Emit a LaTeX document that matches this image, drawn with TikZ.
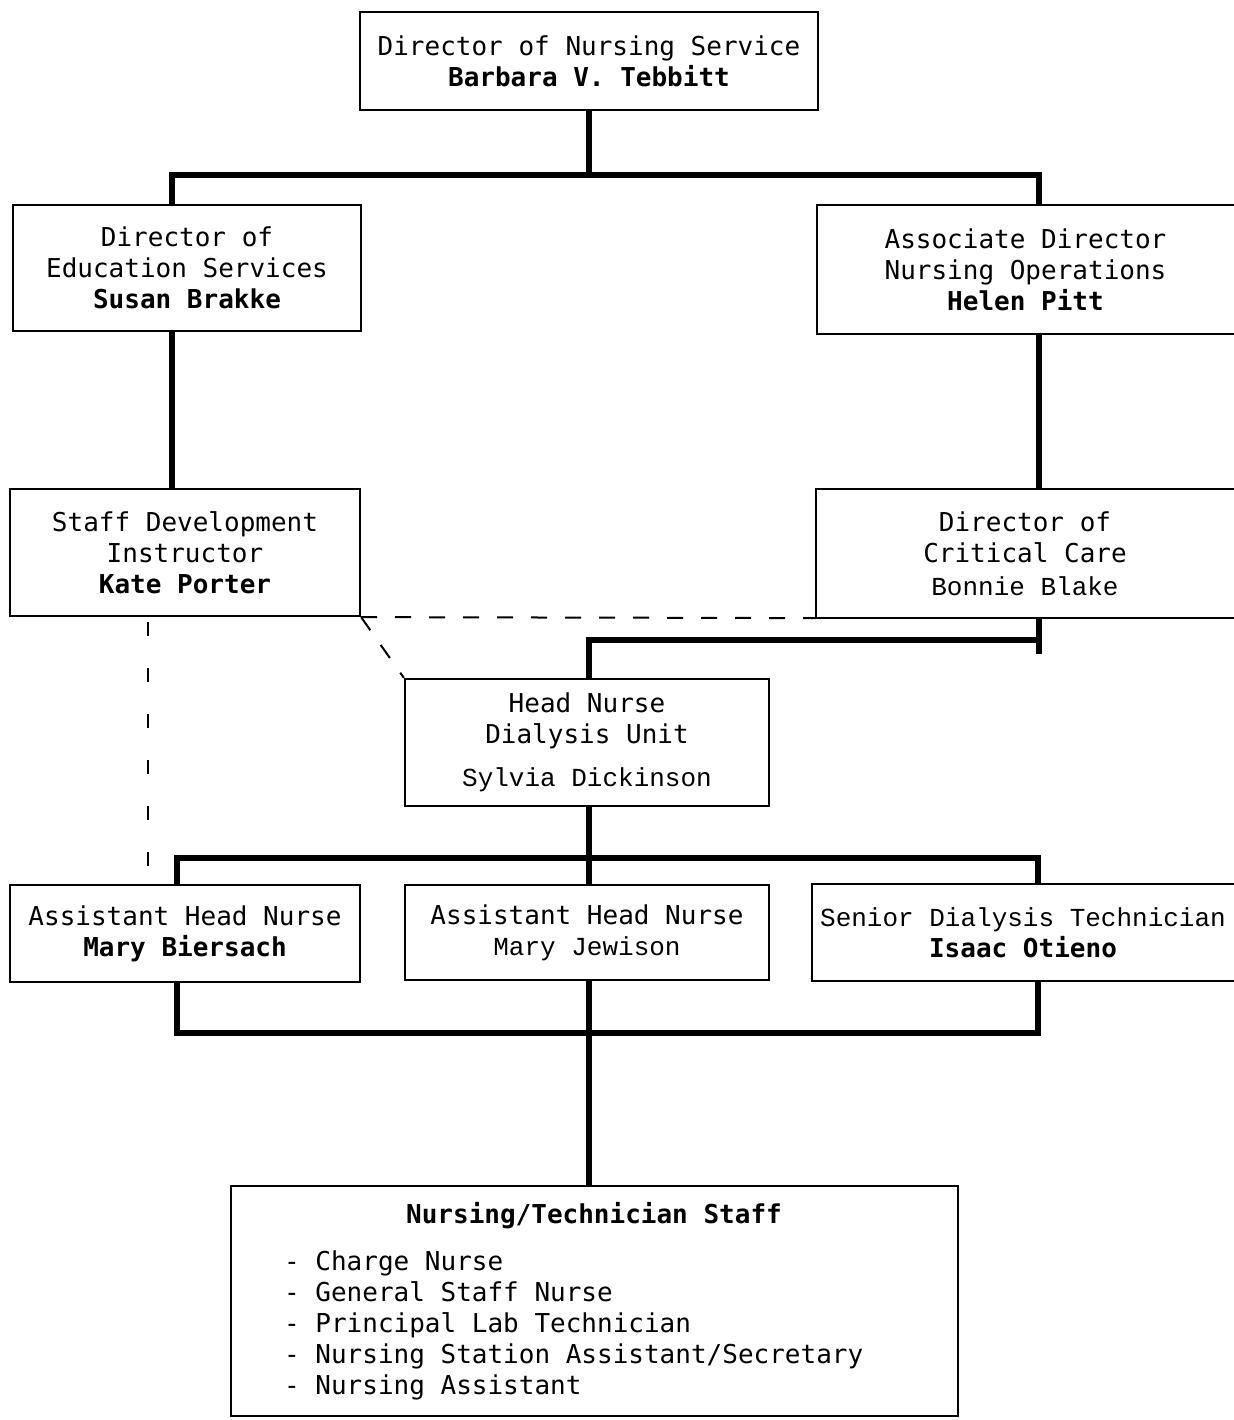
\documentclass[tikz,border=0pt]{standalone}
\usepackage{fontspec}
\newfontfamily\typer{DejaVu Sans Mono}
\newfontfamily\courier{Liberation Mono}
\tikzstyle{box} = [rectangle, draw=black, line width=1.1pt, inner sep=0pt, align=center, font=\typer\fontsize{13}{15.5}\selectfont]
\tikzstyle{openbox} = [box, draw=none]
\tikzstyle{side} = [line width=1.1pt]
\tikzstyle{conn} = [line width=3pt]
\tikzstyle{dashline} = [line width=1pt, dash pattern=on 8pt off 9pt]
\tikzstyle{dotline} = [line width=1pt, dash pattern=on 7pt off 16pt]
\newcommand{\who}[1]{{\bfseries #1}}
\newcommand{\typed}[1]{{\courier #1}}

\begin{document}
\begin{tikzpicture}[x=0.5pt, y=-0.5pt]

            \useasboundingbox (0,0) rectangle (1233,1420);

            %% boxes

            \node (top) [box, minimum width=229pt, minimum height=49pt] at (589,61) {Director of Nursing Service\\\who{Barbara V. Tebbitt}};
            \node (edu) [box, minimum width=174pt, minimum height=63pt] at (187,268) {Director of\\Education Services\\\who{Susan Brakke}};
            \node (ops) [openbox, minimum width=207.5pt, minimum height=63.5pt] at (1025.5,269.5) {Associate Director\\Nursing Operations\\\who{Helen Pitt}};
            \node (dev) [box, minimum width=175pt, minimum height=63.5pt] at (185,552.5) {Staff Development\\Instructor\\\who{Kate Porter}};
            \node (crit) [openbox, minimum width=208pt, minimum height=63.5pt] at (1025,553.5) {Director of\\Critical Care\\[1pt]\typed{Bonnie Blake}};
            \node (head) [box, minimum width=182pt, minimum height=63.5pt] at (587,742.5) {Head Nurse\\Dialysis Unit\\[6pt]\typed{Sylvia Dickinson}};
            \node (ahn1) [box, minimum width=175pt, minimum height=48.5pt] at (185,933.5) {Assistant Head Nurse\\\who{Mary Biersach}};
            \node (ahn2) [box, minimum width=182pt, minimum height=47.5pt] at (587,932.5) {Assistant Head Nurse\\\typed{Mary Jewison}};
            \node (sr) [openbox, minimum width=210pt, minimum height=47.5pt] at (1023,932.5) {\typed{Senior Dialysis Technician}\\\who{Isaac Otieno}};
            \node (staff) [box, minimum width=363.5pt, minimum height=115pt] at (594.5,1301) {};

            \node (staffTitle) [box, draw=none, anchor=center] at (594,1216) {\who{Nursing/Technician Staff}};
            \node (staffList) [box, draw=none, align=left, anchor=west] at (283,1325) {- Charge Nurse\\- General Staff Nurse\\- Principal Lab Technician\\- Nursing Station Assistant/Secretary\\- Nursing Assistant};

            % boxes cut by the right edge
            \draw[side] ([xshift=20pt]ops.north east) -- (ops.north west) -- (ops.south west) -- ([xshift=20pt]ops.south east);
            \draw[side] ([xshift=20pt]crit.north east) -- (crit.north west) -- (crit.south west) -- ([xshift=20pt]crit.south east);
            \draw[side] ([xshift=20pt]sr.north east) -- (sr.north west) -- (sr.south west) -- ([xshift=20pt]sr.south east);

            %% lines

            \coordinate (busA) at (589,175);
            \coordinate (eduIn) at (172,205);
            \coordinate (opsIn) at (1039,205);
            \coordinate (busB) at (589,640);
            \coordinate (busC) at (589,858);
            \coordinate (a1In) at (177,885);
            \coordinate (srIn) at (1038,885);
            \coordinate (busD) at (589,1033);
            \coordinate (devDash) at (148,622);

            \draw[conn] (top.south) -- (busA);
            \draw[conn] (eduIn) |- (busA) -| (opsIn);
            \draw[conn] (eduIn |- edu.south) -- (eduIn |- dev.north);
            \draw[conn] (opsIn |- ops.south) -- (opsIn |- crit.north);
            \draw[conn] (busB |- head.north) -- (busB) -| ([yshift=-18pt]opsIn |- crit.south);
            \draw[conn] (opsIn |- crit.south) -- ([yshift=-18pt]opsIn |- crit.south);

            \draw[conn] (busC |- head.south) -- (busC |- ahn2.north);
            \draw[conn] (a1In) |- (busC) -| (srIn);

            \draw[conn] (a1In |- ahn1.south) |- (busD) -| (srIn |- sr.south);
            \draw[conn] (busD |- ahn2.south) -- (busD |- staff.north);

            \draw[dashline] (dev.south east) -- (crit.south west);
            \draw[dashline] (dev.south east) -- (head.north west);
            \draw[dotline] (devDash) -- (devDash |- ahn1.north);

\end{tikzpicture}
\end{document}
